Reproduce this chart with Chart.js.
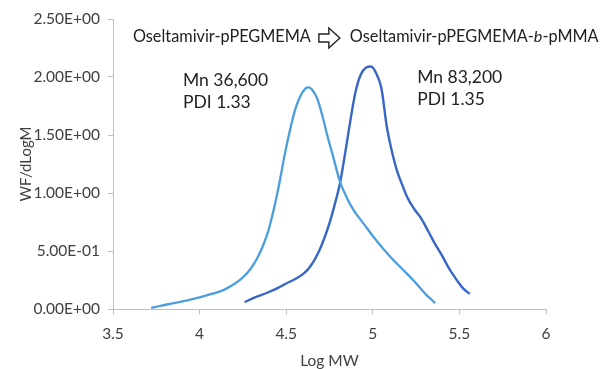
<!DOCTYPE html>
<html>
<head>
<meta charset="utf-8">
<script src="https://cdn.jsdelivr.net/npm/chart.js@4/dist/chart.umd.min.js"></script>
<style>
    html, body { margin: 0; padding: 0; background: #fff; }
    canvas { display: block; }
</style>
</head>
<body>
<canvas id="gpcChart" width="604" height="369"></canvas>
<script>
    // GPC traces (Log MW vs WF/dLogM)
    const macroLogMW = [3.72, 3.78, 3.85, 3.93, 4.00, 4.07, 4.14, 4.20, 4.24, 4.28, 4.31, 4.34, 4.37, 4.40,
        4.43, 4.46, 4.49, 4.52, 4.55, 4.58, 4.61, 4.63, 4.65, 4.68, 4.71, 4.74, 4.77, 4.81, 4.85, 4.89,
        4.95, 5.00, 5.06, 5.12, 5.18, 5.23, 5.28, 5.31, 5.34, 5.36];
    const macroWF = [0.01, 0.03, 0.05, 0.075, 0.10, 0.13, 0.165, 0.215, 0.26, 0.32, 0.38, 0.46, 0.56, 0.69,
        0.87, 1.08, 1.32, 1.53, 1.71, 1.83, 1.90, 1.91, 1.89, 1.81, 1.66, 1.48, 1.32, 1.10, 0.96, 0.85,
        0.73, 0.63, 0.52, 0.42, 0.33, 0.255, 0.17, 0.12, 0.08, 0.05];

    const blockLogMW = [4.26, 4.32, 4.39, 4.45, 4.50, 4.56, 4.60, 4.63, 4.66, 4.69, 4.72, 4.75, 4.78, 4.81,
        4.84, 4.87, 4.90, 4.93, 4.96, 4.99, 5.02, 5.05, 5.08, 5.11, 5.14, 5.17, 5.20, 5.24, 5.28, 5.32,
        5.36, 5.40, 5.44, 5.48, 5.52, 5.56];
    const blockWF = [0.06, 0.10, 0.14, 0.18, 0.22, 0.265, 0.305, 0.35, 0.415, 0.50, 0.61, 0.74, 0.90, 1.08,
        1.34, 1.62, 1.87, 2.02, 2.08, 2.09, 2.03, 1.90, 1.58, 1.36, 1.19, 1.07, 0.96, 0.86, 0.78, 0.67,
        0.56, 0.46, 0.35, 0.26, 0.18, 0.13];

    const xTicks = [3.5, 4, 4.5, 5, 5.5, 6];
    const yTicks = [0, 0.5, 1, 1.5, 2, 2.5];

    const FONT = 'Lato, "Noto Sans", sans-serif';
    const AXIS_GREY = '#bfbfbf';
    const TEXT_GREY = '#404040';
    const NOTE_INK = '#222222';

    const toPoints = (xs, ys) => xs.map((x, i) => ({ x: x, y: ys[i] }));

    // Excel-style scientific label, e.g. 2.50E+00
    const sciLabel = (v) => {
        const [mant, exp] = Number(v).toExponential(2).split('e');
        const sign = exp[0] === '-' ? '-' : '+';
        const digits = exp.replace(/[+-]/, '').padStart(2, '0');
        return `${mant}E${sign}${digits}`;
    };

    // Text notes placed in data units
    const notes = [
        { x: 3.904, y: 1.975, text: 'Mn 36,600' },
        { x: 3.904, y: 1.785, text: 'PDI 1.33' },
        { x: 5.256, y: 2.0, text: 'Mn 83,200' },
        { x: 5.256, y: 1.81, text: 'PDI 1.35' }
    ];

    const notesPlugin = {
        id: 'notes',
        afterDraw(chart) {
            const { ctx, scales } = chart;
            ctx.save();
            ctx.fillStyle = NOTE_INK;
            ctx.textBaseline = 'middle';
            ctx.textAlign = 'left';
            ctx.font = `17.5px ${FONT}`;
            notes.forEach((n) => {
                ctx.fillText(n.text, scales.x.getPixelForValue(n.x), scales.y.getPixelForValue(n.y));
            });

            // headline: first polymer, hollow arrow, block copolymer
            ctx.font = `16.3px ${FONT}`;
            let x = scales.x.getPixelForValue(3.615);
            const y = scales.y.getPixelForValue(2.345);
            ctx.fillText('Oseltamivir-pPEGMEMA', x, y);
            x += ctx.measureText('Oseltamivir-pPEGMEMA').width + 8;

            const ay = y + 1;
            ctx.beginPath();
            ctx.moveTo(x, ay - 4);
            ctx.lineTo(x + 10, ay - 4);
            ctx.lineTo(x + 10, ay - 10);
            ctx.lineTo(x + 21, ay);
            ctx.lineTo(x + 10, ay + 10);
            ctx.lineTo(x + 10, ay + 4);
            ctx.lineTo(x, ay + 4);
            ctx.closePath();
            ctx.strokeStyle = NOTE_INK;
            ctx.lineWidth = 1.4;
            ctx.stroke();
            x += 31;

            const parts = [['Oseltamivir-pPEGMEMA-', ''], ['b', 'italic '], ['-pMMA', '']];
            parts.forEach(([t, style]) => {
                ctx.font = `${style}16.3px ${FONT}`;
                ctx.fillText(t, x, y);
                x += ctx.measureText(t).width;
            });
            ctx.restore();
        }
    };

    new Chart(document.getElementById('gpcChart'), {
        type: 'line',
        data: {
            datasets: [
                {
                    label: 'Oseltamivir-pPEGMEMA',
                    data: toPoints(macroLogMW, macroWF),
                    borderColor: 'rgb(74, 158, 222)',
                    borderWidth: 2.3,
                    pointRadius: 0,
                    cubicInterpolationMode: 'monotone'
                },
                {
                    label: 'Oseltamivir-pPEGMEMA-b-pMMA',
                    data: toPoints(blockLogMW, blockWF),
                    borderColor: 'rgb(56, 102, 196)',
                    borderWidth: 2.4,
                    pointRadius: 0,
                    cubicInterpolationMode: 'monotone'
                }
            ]
        },
        options: {
            responsive: false,
            devicePixelRatio: 1,
            animation: false,
            layout: { padding: { top: 19, right: 58, bottom: 0, left: 0 } },
            plugins: {
                legend: { display: false },
                tooltip: { enabled: false }
            },
            scales: {
                x: {
                    type: 'linear',
                    min: 3.5,
                    max: 6,
                    afterFit: (scale) => { scale.height = 60; },
                    afterBuildTicks: (scale) => { scale.ticks = xTicks.map(v => ({ value: v })); },
                    grid: { drawOnChartArea: false, tickLength: 5, color: AXIS_GREY },
                    border: { color: AXIS_GREY },
                    ticks: {
                        color: TEXT_GREY,
                        padding: 11,
                        maxRotation: 0,
                        callback: (v) => String(v),
                        font: { family: FONT, size: 15.5 }
                    },
                    title: {
                        display: true,
                        text: 'Log MW',
                        color: TEXT_GREY,
                        font: { family: FONT, size: 15.5, lineHeight: 1.05 },
                        padding: { top: 0, bottom: 0 }
                    }
                },
                y: {
                    min: 0,
                    max: 2.5,
                    afterFit: (scale) => { scale.width = 113; },
                    afterBuildTicks: (scale) => { scale.ticks = yTicks.map(v => ({ value: v })); },
                    grid: { drawOnChartArea: false, tickLength: 5, color: AXIS_GREY },
                    border: { color: AXIS_GREY },
                    ticks: { color: TEXT_GREY, padding: 8, callback: sciLabel, font: { family: FONT, size: 15.5 } },
                    title: {
                        display: true,
                        text: 'WF/dLogM',
                        color: TEXT_GREY,
                        font: { family: FONT, size: 15 },
                        padding: { top: 17, bottom: 0 }
                    }
                }
            }
        },
        plugins: [notesPlugin]
    });
</script>
</body>
</html>
